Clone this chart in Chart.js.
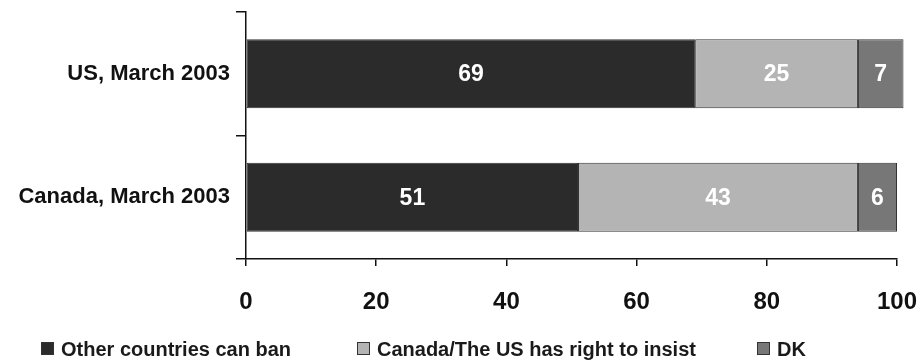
<!DOCTYPE html>
<html>
<head>
<meta charset="utf-8">
<script src="https://cdn.jsdelivr.net/npm/chart.js@4/dist/chart.umd.min.js"></script>
<style>
    body { margin: 0; background: #fff; }
    #wrap { position: relative; width: 922px; height: 363px; }
    #legend {
        position: absolute; left: 41px; top: 338px;
        font: bold 20px "Liberation Sans", Arial, sans-serif; color: #1a1a1a;
    }
    #legend span.item { position: absolute; white-space: nowrap; }
    #legend i {
        display: inline-block; width: 11px; height: 11px; margin-right: 7px;
        border: 1px solid #333; vertical-align: 1px;
    }
</style>
</head>
<body>
<div id="wrap">
    <canvas id="myChart" width="922" height="363"></canvas>
    <div id="legend"></div>
</div>
<script>
var categories = ["US, March 2003", "Canada, March 2003"];
var seriesNames = ["Other countries can ban", "Canada/The US has right to insist", "DK"];
var banValues = [69, 51];
var insistValues = [25, 43];
var dkValues = [7, 6];
var xTicks = [0, 20, 40, 60, 80, 100];

var colors = ["#2b2b2b", "#b4b4b4", "#777777"];
var font = "'Liberation Sans', Arial, sans-serif";

// white numbers in the middle of each segment
var valueLabels = {
    id: "valueLabels",
    afterDatasetsDraw: function (chart) {
        var ctx = chart.ctx;
        ctx.save();
        ctx.fillStyle = "#ffffff";
        ctx.font = "bold 23px " + font;
        ctx.textAlign = "center";
        ctx.textBaseline = "middle";
        chart.data.datasets.forEach(function (ds, i) {
            chart.getDatasetMeta(i).data.forEach(function (bar, j) {
                var p = bar.getProps(["x", "y", "base"], true);
                ctx.fillText(ds.data[j], (p.x + p.base) / 2, p.y + 1);
            });
        });
        ctx.restore();
    },
};

var data = {
    labels: categories,
    datasets: [
        { label: seriesNames[0], data: banValues, backgroundColor: colors[0] },
        { label: seriesNames[1], data: insistValues, backgroundColor: colors[1] },
        { label: seriesNames[2], data: dkValues, backgroundColor: colors[2] },
    ].map(function (ds) {
        ds.borderColor = "#333333";
        ds.borderWidth = 1;
        ds.borderSkipped = false;
        ds.barPercentage = 0.56;
        ds.categoryPercentage = 1;
        ds.clip = false;
        return ds;
    }),
};

var config = {
    type: "bar",
    data: data,
    options: {
        indexAxis: "y",
        responsive: false,
        animation: false,
        layout: { autoPadding: false, padding: { top: 12, right: 25, left: 0, bottom: 0 } },
        plugins: {
            legend: { display: false },
            tooltip: { enabled: false },
        },
        scales: {
            x: {
                stacked: true,
                min: 0,
                max: 100,
                afterBuildTicks: function (scale) {
                    scale.ticks = xTicks.map(function (v) { return { value: v }; });
                },
                afterFit: function (scale) {
                    scale.height = 104;
                    scale.paddingLeft = 0;
                    scale.paddingRight = 0;
                },
                border: { color: "#111", width: 1.5 },
                grid: { drawOnChartArea: false, tickLength: 7, color: "#111", lineWidth: 1.5 },
                ticks: { color: "#111", padding: 22, font: { family: font, size: 24, weight: "bold" } },
            },
            y: {
                stacked: true,
                afterFit: function (scale) {
                    scale.width = 246;
                    scale.paddingTop = 0;
                    scale.paddingBottom = 0;
                },
                border: { color: "#111", width: 1.5 },
                grid: { offset: true, drawOnChartArea: false, tickLength: 10, color: "#111", lineWidth: 1.5 },
                ticks: { color: "#111", padding: 6, font: { family: font, size: 22, weight: "bold" } },
            },
        },
    },
    plugins: [valueLabels],
};

var myChart = new Chart(document.getElementById("myChart"), config);

// legend under the axis
var legendX = [0, 316, 716];
var legend = document.getElementById("legend");
seriesNames.forEach(function (name, i) {
    var item = document.createElement("span");
    item.className = "item";
    item.style.left = legendX[i] + "px";
    item.innerHTML = '<i style="background:' + colors[i] + '"></i>' + name;
    legend.appendChild(item);
});
</script>
</body>
</html>
